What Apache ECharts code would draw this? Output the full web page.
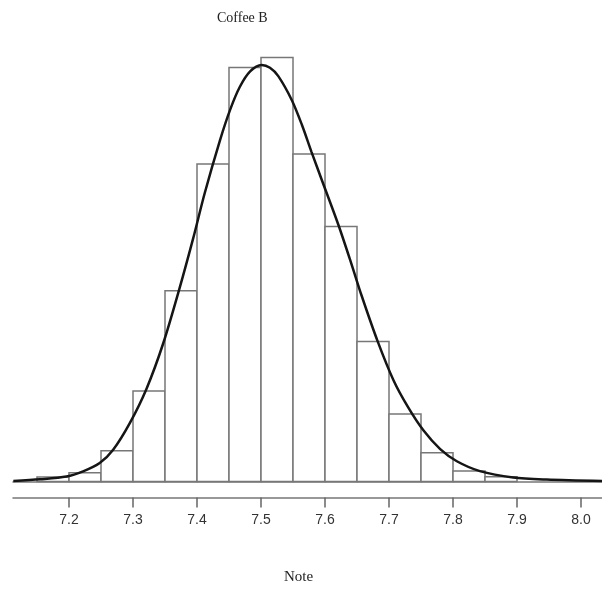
<!DOCTYPE html>
<html>
<head>
<meta charset="utf-8">
<script src="https://cdn.jsdelivr.net/npm/echarts@6/dist/echarts.min.js"></script>
<style>html,body{margin:0;padding:0;background:#fff}#c{width:602px;height:592px}</style>
</head>
<body>
<div id="c"></div>
<script>
// Histogram bins (left edges, width 0.05) and densities
const binStarts = [7.15, 7.20, 7.25, 7.30, 7.35, 7.40, 7.45, 7.50, 7.55, 7.60, 7.65, 7.70, 7.75, 7.80, 7.85];
const binWidth = 0.05;
const binDensity = [0.039, 0.076, 0.266, 0.782, 1.648, 2.743, 3.577, 3.663, 2.829, 2.203, 1.210, 0.583, 0.249, 0.091, 0.041];

// Density curve points
const curveX = [7.113, 7.155, 7.196, 7.222, 7.248, 7.269, 7.295, 7.321, 7.347, 7.373, 7.394, 7.412, 7.436, 7.452, 7.467, 7.483, 7.501, 7.514, 7.527, 7.548, 7.564, 7.579, 7.595, 7.621, 7.642, 7.657, 7.682, 7.707, 7.730, 7.754, 7.780, 7.806, 7.842, 7.894, 7.946, 8.033];
const curveY = [0.004, 0.019, 0.043, 0.088, 0.160, 0.275, 0.505, 0.800, 1.190, 1.675, 2.100, 2.490, 2.950, 3.215, 3.410, 3.543, 3.598, 3.574, 3.502, 3.296, 3.080, 2.846, 2.605, 2.216, 1.868, 1.609, 1.215, 0.875, 0.640, 0.440, 0.280, 0.175, 0.090, 0.035, 0.017, 0.004];

// Tick labels
const tickValues = [7.2, 7.3, 7.4, 7.5, 7.6, 7.7, 7.8, 7.9, 8.0];

const xMin = 7.1125, xMax = 8.0328;

const barData = binStarts.map((s, i) => [s, s + binWidth, binDensity[i]]);
const lineData = curveX.map((x, i) => [x, curveY[i]]);

const chart = echarts.init(document.getElementById('c'), null, {renderer: 'canvas'});
chart.setOption({
  animation: false,
  backgroundColor: '#ffffff',
  title: {
    text: 'Coffee B',
    left: 212, top: 6,
    textStyle: {fontFamily: 'Liberation Serif', fontSize: 14, fontWeight: 'normal', color: '#222'}
  },
  grid: {left: 13, right: 0, top: 18.5, bottom: 110.5, containLabel: false},
  xAxis: [{
    type: 'value', min: xMin, max: xMax, position: 'bottom', offset: 16,
    splitLine: {show: false},
    axisLine: {show: true, onZero: false, lineStyle: {color: '#777', width: 1.5}},
    axisTick: {show: true, length: 10, customValues: tickValues, lineStyle: {color: '#666', width: 1.5}},
    axisLabel: {customValues: tickValues, margin: 16, fontFamily: 'Liberation Sans', fontSize: 14, color: '#333',
      formatter: v => Number(v).toFixed(1)},
    name: 'Note', nameLocation: 'middle', nameGap: 72,
    nameTextStyle: {fontFamily: 'Liberation Serif', fontSize: 15, color: '#222', padding: [0, 18, 0, 0]}
  }, {
    type: 'value', min: xMin, max: xMax, position: 'bottom', offset: 0,
    splitLine: {show: false},
    axisLine: {show: true, onZero: false, lineStyle: {color: '#777', width: 1.5}},
    axisTick: {show: false}, axisLabel: {show: false}
  }],
  yAxis: {type: 'value', min: 0, max: 4, show: false, splitLine: {show: false}},
  series: [{
    type: 'custom',
    xAxisIndex: 0,
    data: barData,
    renderItem: function (params, api) {
      const p0 = api.coord([api.value(0), api.value(2)]);
      const p1 = api.coord([api.value(1), 0]);
      return {
        type: 'rect',
        shape: {x: p0[0], y: p0[1], width: p1[0] - p0[0], height: p1[1] - p0[1]},
        style: {fill: '#ffffff', stroke: '#777', lineWidth: 1.5}
      };
    },
    z: 2
  }, {
    type: 'line',
    xAxisIndex: 0,
    data: lineData,
    smooth: 0.3,
    showSymbol: false,
    lineStyle: {color: '#151515', width: 2.5},
    z: 5
  }]
});
</script>
</body>
</html>
